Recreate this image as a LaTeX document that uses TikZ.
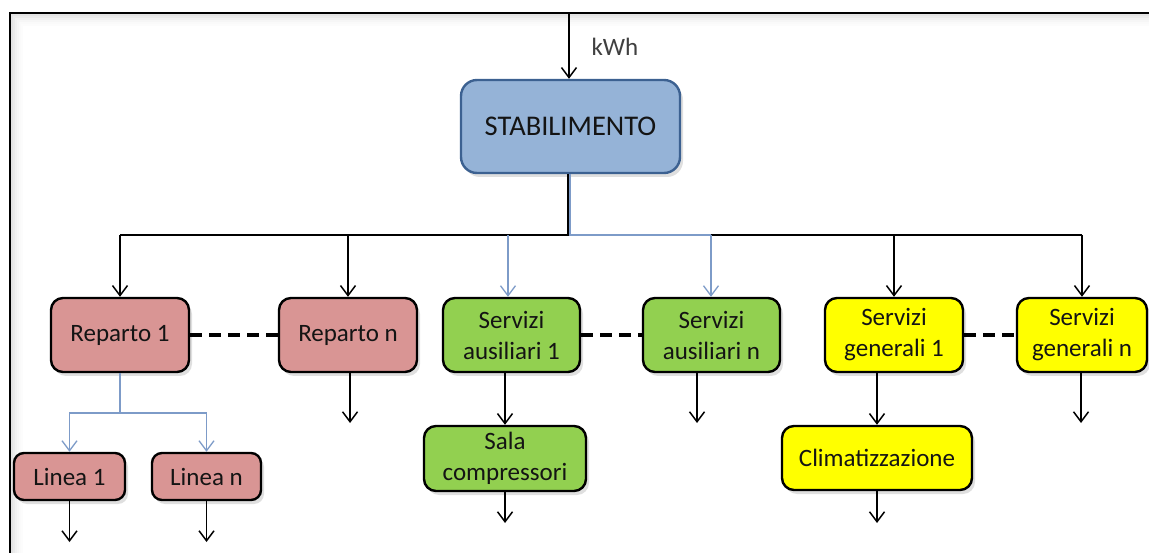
\documentclass[tikz,border=0pt]{standalone}
\usepackage{fontspec}
\setmainfont{Carlito}
\usetikzlibrary{arrows.meta,shadows}
\definecolor{stabfill}{RGB}{149,179,215}
\definecolor{stabdraw}{RGB}{60,97,145}
\definecolor{repfill}{RGB}{217,149,148}
\definecolor{ausfill}{RGB}{146,208,80}
\definecolor{genfill}{RGB}{255,255,0}
\definecolor{blink}{RGB}{125,155,200}
\definecolor{txt}{RGB}{20,20,20}
\begin{document}
\begin{tikzpicture}[x=1pt,y=-1pt,
  box/.style={draw=black, line width=2.4pt, rounded corners=12pt, align=center,
    inner sep=0pt, font=\fontsize{25}{31}\selectfont, text=txt,
    drop shadow={opacity=0.25, shadow xshift=3pt, shadow yshift=-4pt}},
  stabbox/.style={box, draw=stabdraw, fill=stabfill, rounded corners=16pt,
    font=\fontsize{28.5}{34}\selectfont},
  repbox/.style={box, fill=repfill},
  ausbox/.style={box, fill=ausfill},
  genbox/.style={box, fill=genfill},
  arr/.style={line width=1.5pt, -{Straight Barb[length=10pt,width=15pt]}},
  barr/.style={draw=blink, line width=1.3pt, -{Straight Barb[length=10pt,width=15pt]}},
  bline/.style={draw=blink, line width=1.3pt},
  bus/.style={line width=1.5pt},
  dashline/.style={line width=3.5pt, dash pattern=on 12pt off 7pt}
]
\fill[white] (0,0) rectangle (1149,553);
\useasboundingbox (0,0) rectangle (1149,553);

% frame with inner shadow
\foreach \i/\o in {2/0.22,4/0.16,6/0.11,8/0.07,10/0.04,12/0.02}
  \draw[gray, line width=2pt, opacity=\o] (10+\i,553) -- (10+\i,13+\i) -- (1149,13+\i);
\draw[line width=2.2pt] (10,553) -- (10,13) -- (1149,13);

% nodes
\node[stabbox, minimum width=219pt, minimum height=93pt] (stab) at (570.5,126.5) {STABILIMENTO};
\node[repbox, minimum width=138pt, minimum height=74pt] (r1) at (120,335) {Reparto 1};
\node[repbox, minimum width=138pt, minimum height=74pt] (rn) at (348,335) {Reparto n};
\node[ausbox, minimum width=137pt, minimum height=74pt] (sa1) at (511.5,335) {Servizi\\ausiliari 1};
\node[ausbox, minimum width=137pt, minimum height=74pt] (san) at (711.5,335) {Servizi\\ausiliari n};
\node[genbox, minimum width=138pt, minimum height=74pt] (sg1) at (894,335) {Servizi\\generali 1};
\node[genbox, minimum width=130pt, minimum height=74pt] (sgn) at (1082,335) {Servizi\\generali n};
\node[repbox, minimum width=111pt, minimum height=47pt, rounded corners=10pt] (l1) at (69.5,476.5) {Linea 1};
\node[repbox, minimum width=109pt, minimum height=47pt, rounded corners=10pt] (ln) at (206.5,476.5) {Linea n};
\node[ausbox, minimum width=162pt, minimum height=65pt] (sala) at (505,458.5) {Sala\\compressori};
\node[genbox, minimum width=190pt, minimum height=64pt] (clima) at (877,458) {Climatizzazione};

% input
\coordinate (in) at (569,13);
\draw[arr] (in) -- (in |- stab.north);
\node[font=\fontsize{25}{30}\selectfont, text=black!75, anchor=west] (kwh) at (588,47) {kWh};

% bus
\coordinate (bus) at (569,235);
\coordinate (bl) at (508,235);
\coordinate (br) at (711,235);
\draw[bline] (bl) -- (br);
\draw[bus] (bus -| r1) -- (bus);
\draw[bus] (br) -- (bus -| sgn);
\draw[bus] (stab.south -| bus) ++(-1,0) -- ([xshift=-1pt]bus);
\draw[bline] ([xshift=1pt]stab.south -| bus) -- ([xshift=1pt]bus);

\draw[arr] (bus -| r1) -- (r1);
\draw[arr] (bus -| rn) -- (rn);
\draw[barr] (bl) -- (bl |- sa1.north);
\draw[barr] (br) -- (br |- san.north);
\draw[arr] (bus -| sg1) -- (sg1);
\draw[arr] (bus -| sgn) -- (sgn);

% dashed links
\draw[dashline] (r1.east) -- (rn.west);
\draw[dashline] (sa1.east) -- (san.west);
\draw[dashline] (sg1.east) -- (sgn.west);

% Reparto 1 -> Linee
\coordinate (rsplit) at (120,413);
\draw[bline] (r1.south) -- (rsplit);
\draw[barr] (rsplit) -| (l1.north);
\draw[barr] (rsplit) -| (ln.north);

% sub arrows
\draw[arr] (sala.north |- sa1.south) -- (sala.north);
\draw[arr] (clima.north |- sg1.south) -- (clima.north);

% free outputs
\coordinate (o1) at (69.5,542);
\coordinate (o2) at (206.5,542);
\coordinate (o3) at (350,423);
\coordinate (o4) at (505,523);
\coordinate (o5) at (697,423);
\coordinate (o6) at (877,523);
\coordinate (o7) at (1081,423);
\draw[arr] (l1.south) -- (o1);
\draw[arr] (ln.south) -- (o2);
\draw[arr] (o3 |- rn.south) -- (o3);
\draw[arr] (sala.south) -- (o4);
\draw[arr] (o5 |- san.south) -- (o5);
\draw[arr] (clima.south) -- (o6);
\draw[arr] (o7 |- sgn.south) -- (o7);
\end{tikzpicture}
\end{document}
